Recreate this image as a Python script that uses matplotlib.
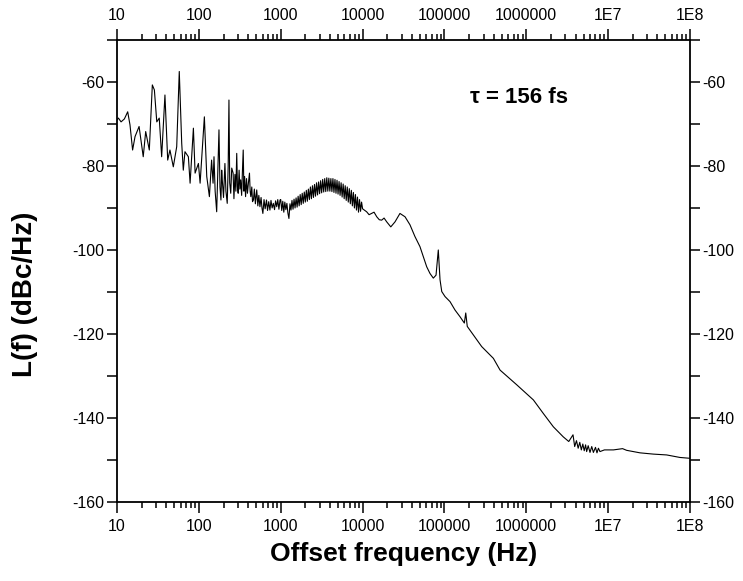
import numpy as np
import matplotlib
matplotlib.use("Agg")
import matplotlib.pyplot as plt
from matplotlib.ticker import LogLocator, MultipleLocator, NullFormatter

plt.rcParams['font.family'] = ['Liberation Sans', 'DejaVu Sans']

# offset frequency (Hz) and phase noise L(f) (dBc/Hz)
# spur region, 10 Hz - 1 kHz
f_low = [10, 10.4, 11.2, 12.3, 13.5, 14.4, 15.5, 16.6, 18.6, 20.9, 22.4, 24.8,
         27.0, 28.6, 30.6, 32.8, 35.1, 38.5, 41.6, 44.3, 48.7, 53.6, 57.6, 61.7,
         64.5, 67.6, 74.4, 78.1, 85.7, 89.9, 98.7, 103.5, 116.7, 124.8, 134.4,
         143.0, 149, 153, 158, 165, 170, 176, 181, 186, 190, 193, 200, 208, 214,
         222, 228, 233, 238, 245, 252, 262, 268, 276, 283, 290, 296, 302, 310,
         317, 324, 333, 340, 348, 355, 362, 372, 382, 392, 403, 415, 423, 431,
         443, 452, 464, 476, 490, 509, 525, 540, 557, 575, 590, 605, 625, 645,
         670, 690, 713, 738, 760, 785, 812, 840, 865, 893, 920, 950, 980]
L_low = [-69.0, -68.6, -69.5, -68.8, -67.1, -70.2, -76.2, -73.0, -70.6, -77.8,
         -71.8, -76.2, -60.7, -61.9, -69.5, -68.6, -77.8, -63.1, -78.6, -76.2,
         -80.2, -75.4, -57.5, -74.6, -81.0, -76.6, -77.8, -84.1, -71.0, -81.7,
         -79.4, -84.1, -68.3, -82.5, -87.3, -78.6, -84.1, -77.8, -86.0, -90.9,
         -82.0, -71.4, -85.0, -88.1, -81.0, -83.3, -87.5, -79.4, -86.0, -88.9,
         -80.0, -64.3, -84.0, -86.5, -80.5, -81.7, -87.8, -82.0, -86.0, -77.0,
         -85.0, -86.5, -81.0, -85.5, -83.3, -87.0, -81.5, -76.2, -86.0, -82.5,
         -87.3, -83.0, -86.5, -84.0, -81.7, -86.0, -87.3, -85.0, -88.5, -88.1,
         -85.5, -89.0, -85.7, -89.5, -87.0, -89.7, -87.5, -90.0, -91.3, -88.0,
         -90.2, -88.1, -90.6, -88.5, -90.5, -88.2, -90.0, -88.9, -90.4, -88.3,
         -89.7, -88.0, -90.3, -88.1]

# broad bump, 1 kHz - 10 kHz (dense noisy band)
f_bump = [1000, 1029, 1059, 1090, 1122, 1155, 1189, 1223, 1259, 1296, 1334,
          1372, 1413, 1454, 1496, 1540, 1585, 1631, 1679, 1728, 1778, 1830,
          1884, 1939, 1995, 2054, 2113, 2175, 2239, 2304, 2371, 2441, 2512,
          2585, 2661, 2738, 2818, 2901, 2985, 3073, 3162, 3255, 3350, 3447,
          3548, 3652, 3758, 3868, 3981, 4097, 4217, 4340, 4467, 4597, 4732,
          4870, 5012, 5158, 5309, 5464, 5623, 5788, 5957, 6131, 6310, 6494,
          6683, 6879, 7079, 7286, 7499, 7718, 7943, 8175, 8414, 8660, 8913,
          9173, 9441, 9716, 10000]
L_bump = [-88.0, -90.6, -88.4, -91.0, -88.6, -90.4, -88.9, -91.2, -92.5, -89.0,
          -90.5, -88.2, -90.3, -87.9, -90.0, -87.6, -89.8, -87.2, -89.5, -86.8,
          -89.2, -86.5, -88.9, -86.2, -88.6, -85.8, -88.4, -85.5, -88.0, -85.0,
          -87.8, -84.7, -87.5, -84.4, -87.2, -84.0, -86.9, -83.8, -86.6, -83.5,
          -86.4, -83.2, -86.2, -83.0, -86.1, -82.8, -86.0, -82.9, -86.0, -83.0,
          -86.1, -83.0, -86.3, -83.2, -86.5, -83.4, -86.7, -83.7, -87.0, -84.0,
          -87.4, -84.3, -87.8, -84.7, -88.2, -85.0, -88.6, -85.4, -89.0, -85.8,
          -89.5, -86.3, -90.0, -86.8, -90.5, -87.4, -91.0, -88.0, -90.8, -88.6,
          -90.2]

# shoulder and roll-off, 10 kHz - 400 kHz
f_mid = [11200, 12000, 12900, 13800, 14900, 16000, 17100, 18300, 19700, 22100,
         24900, 28600, 33000, 37900, 43600, 50200, 55200, 60700, 66600, 73100,
         78900, 84100, 88300, 92700, 101700, 117000, 134600, 155000, 175000,
         182000, 190000, 225000, 285000, 361000, 396000]
L_mid = [-90.9, -91.6, -91.3, -91.0, -92.1, -92.8, -92.9, -92.4, -93.3, -94.5,
         -93.3, -91.3, -92.1, -94.0, -96.8, -99.2, -101.6, -104.0, -105.6,
         -106.7, -106.0, -100.0, -107.1, -109.9, -111.1, -112.3, -114.3, -115.9,
         -117.4, -115.0, -118.2, -120.2, -123.0, -125.0, -125.8]

# high offset roll-off and noise floor, 400 kHz - 100 MHz
f_high = [478000, 764000, 1.22e6, 1.61e6, 2.14e6, 2.83e6, 3.3e6, 3.72e6, 3.9e6,
          4.1e6, 4.3e6, 4.5e6, 4.7e6, 4.9e6, 5.1e6, 5.3e6, 5.46e6, 5.7e6, 6.0e6,
          6.3e6, 6.6e6, 7.0e6, 7.3e6, 7.6e6, 7.94e6, 9.0e6, 1.16e7, 1.5e7,
          1.68e7, 2.45e7, 3.56e7, 5.19e7, 7.54e7, 1e8]
L_high = [-128.6, -132.1, -135.7, -138.9, -142.1, -144.5, -145.6, -144.0,
          -146.8, -145.4, -147.2, -145.8, -147.6, -146.2, -147.8, -146.4, -148.0,
          -146.6, -148.2, -146.8, -148.2, -147.0, -148.3, -147.2, -148.0, -147.6,
          -147.6, -147.3, -147.7, -148.3, -148.6, -148.8, -149.4, -149.6]

freq = np.array(f_low + f_bump + f_mid + f_high)
level = np.array(L_low + L_bump + L_mid + L_high)

x_ticks = [10, 100, 1000, 10000, 100000, 1000000, 1e7, 1e8]
x_labels = ['10', '100', '1000', '10000', '100000', '1000000', '1E7', '1E8']
y_ticks = [-160, -140, -120, -100, -80, -60]

fig = plt.figure(figsize=(7.43, 5.81), dpi=100)
ax = fig.add_axes([0.1575, 0.136, 0.7712, 0.7952])
ax.plot(freq, level, color='black', lw=0.8)

ax.set_xscale('log')
ax.set_xlim(10, 1e8)
ax.set_ylim(-160, -50)
ax.set_xticks(x_ticks)
ax.set_xticklabels(x_labels)
ax.xaxis.set_minor_locator(LogLocator(base=10, subs=np.arange(2, 10), numticks=100))
ax.xaxis.set_minor_formatter(NullFormatter())
ax.set_yticks(y_ticks)
ax.set_yticklabels([str(v) for v in y_ticks])
ax.yaxis.set_minor_locator(MultipleLocator(10))

for s in ax.spines.values():
    s.set_linewidth(1.3)
ax.tick_params(which='both', top=True, right=True, labeltop=True,
               labelright=True, direction='out', labelsize=11.5, width=1.1)
ax.tick_params(axis='x', which='major', length=8, pad=4)
ax.tick_params(axis='x', which='minor', length=4)
ax.tick_params(axis='y', which='both', length=7, pad=2)

ax.set_xlabel('Offset frequency (Hz)', fontsize=19, fontweight='bold', labelpad=6)
ax.set_ylabel('L(f) (dBc/Hz)', fontsize=20, fontweight='bold')
ax.yaxis.set_label_coords(-0.138, 0.45)
ax.text(0.702, 0.875, '\u03c4 = 156 fs', transform=ax.transAxes, fontsize=16,
        fontweight='bold', ha='center', va='center')

fig.savefig('out.png', dpi=100)
